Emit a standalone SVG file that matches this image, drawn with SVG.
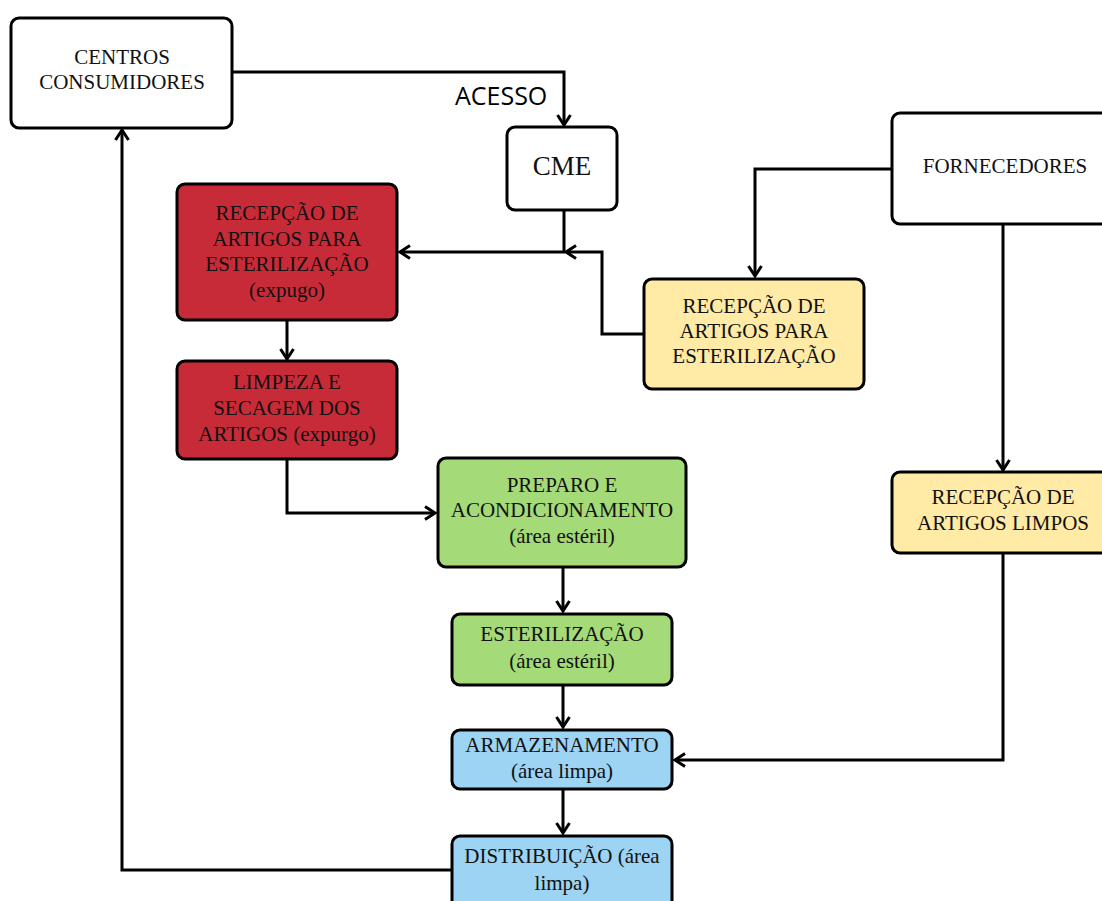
<svg xmlns="http://www.w3.org/2000/svg" width="1102" height="901" viewBox="0 0 1102 901">
<style>
.box{stroke:#000;stroke-width:3}
.w{fill:#fff}.r{fill:#C72B38}.y{fill:#FFEAA6}.g{fill:#A4DA78}.b{fill:#9DD3F3}
.t{font-family:"Liberation Serif",serif;font-size:21px;fill:#111;text-anchor:middle}
.c{fill:none;stroke:#000;stroke-width:3;marker-end:url(#ah)}
.lbl{font-family:"Open Sans",sans-serif;font-size:25px;fill:#000}
</style>
<defs>
<marker id="ah" viewBox="0 0 16 16" refX="13" refY="8" markerWidth="16" markerHeight="16" markerUnits="userSpaceOnUse" orient="auto">
<path d="M3,1.5 L13,8 L3,14.5" fill="none" stroke="#000" stroke-width="3"/>
</marker>
</defs>
<rect width="1102" height="901" fill="#fff"/>
<g id="connectors">
<path class="c" d="M232,72 H564 V125"/>
<path class="c" d="M564,210 V252 H400"/>
<path class="c" d="M644,334 H602 V252 H566"/>
<path class="c" d="M892,169 H755 V276"/>
<path class="c" d="M287,320 V359"/>
<path class="c" d="M287,459 V513 H435"/>
<path class="c" d="M563,567 V611"/>
<path class="c" d="M563,685 V727"/>
<path class="c" d="M563,789 V833"/>
<path class="c" d="M1003,224 V470"/>
<path class="c" d="M1003,553 V760 H675"/>
<path class="c" d="M452,870 H122 V130"/>
<text class="lbl" x="455" y="105">ACESSO</text>
</g>
<g id="centros">
<rect class="box w" x="11" y="18" width="221" height="110" rx="8"/>
<text class="t" x="122" y="64">CENTROS</text>
<text class="t" x="122" y="89">CONSUMIDORES</text>
</g>
<g id="cme">
<rect class="box w" x="507" y="127" width="110" height="83" rx="8"/>
<text class="t" x="562" y="175" style="font-size:27px">CME</text>
</g>
<g id="fornecedores">
<rect class="box w" x="892" y="113" width="220" height="111" rx="8"/>
<text class="t" x="1005" y="173">FORNECEDORES</text>
</g>
<g id="recepcao-esterilizacao-expurgo">
<rect class="box r" x="177" y="184" width="220" height="136" rx="8"/>
<text class="t" x="287" y="220">RECEPÇÃO DE</text>
<text class="t" x="287" y="246">ARTIGOS PARA</text>
<text class="t" x="287" y="271">ESTERILIZAÇÃO</text>
<text class="t" x="287" y="297">(expugo)</text>
</g>
<g id="recepcao-esterilizacao">
<rect class="box y" x="644" y="279" width="220" height="110" rx="8"/>
<text class="t" x="754" y="313">RECEPÇÃO DE</text>
<text class="t" x="754" y="338">ARTIGOS PARA</text>
<text class="t" x="754" y="363">ESTERILIZAÇÃO</text>
</g>
<g id="limpeza">
<rect class="box r" x="177" y="361" width="220" height="98" rx="8"/>
<text class="t" x="287" y="389">LIMPEZA E</text>
<text class="t" x="287" y="415">SECAGEM DOS</text>
<text class="t" x="287" y="441">ARTIGOS (expurgo)</text>
</g>
<g id="preparo">
<rect class="box g" x="438" y="458" width="248" height="109" rx="8"/>
<text class="t" x="562" y="492">PREPARO E</text>
<text class="t" x="562" y="517">ACONDICIONAMENTO</text>
<text class="t" x="562" y="543">(área estéril)</text>
</g>
<g id="recepcao-limpos">
<rect class="box y" x="892" y="472" width="220" height="81" rx="8"/>
<text class="t" x="1003" y="504">RECEPÇÃO DE</text>
<text class="t" x="1003" y="530">ARTIGOS LIMPOS</text>
</g>
<g id="esterilizacao">
<rect class="box g" x="452" y="614" width="220" height="71" rx="8"/>
<text class="t" x="562" y="641">ESTERILIZAÇÃO</text>
<text class="t" x="562" y="668">(área estéril)</text>
</g>
<g id="armazenamento">
<rect class="box b" x="452" y="730" width="220" height="59" rx="8"/>
<text class="t" x="562" y="752">ARMAZENAMENTO</text>
<text class="t" x="562" y="778">(área limpa)</text>
</g>
<g id="distribuicao">
<rect class="box b" x="452" y="836" width="220" height="80" rx="8"/>
<text class="t" x="562" y="863">DISTRIBUIÇÃO (área</text>
<text class="t" x="562" y="890">limpa)</text>
</g>
</svg>
